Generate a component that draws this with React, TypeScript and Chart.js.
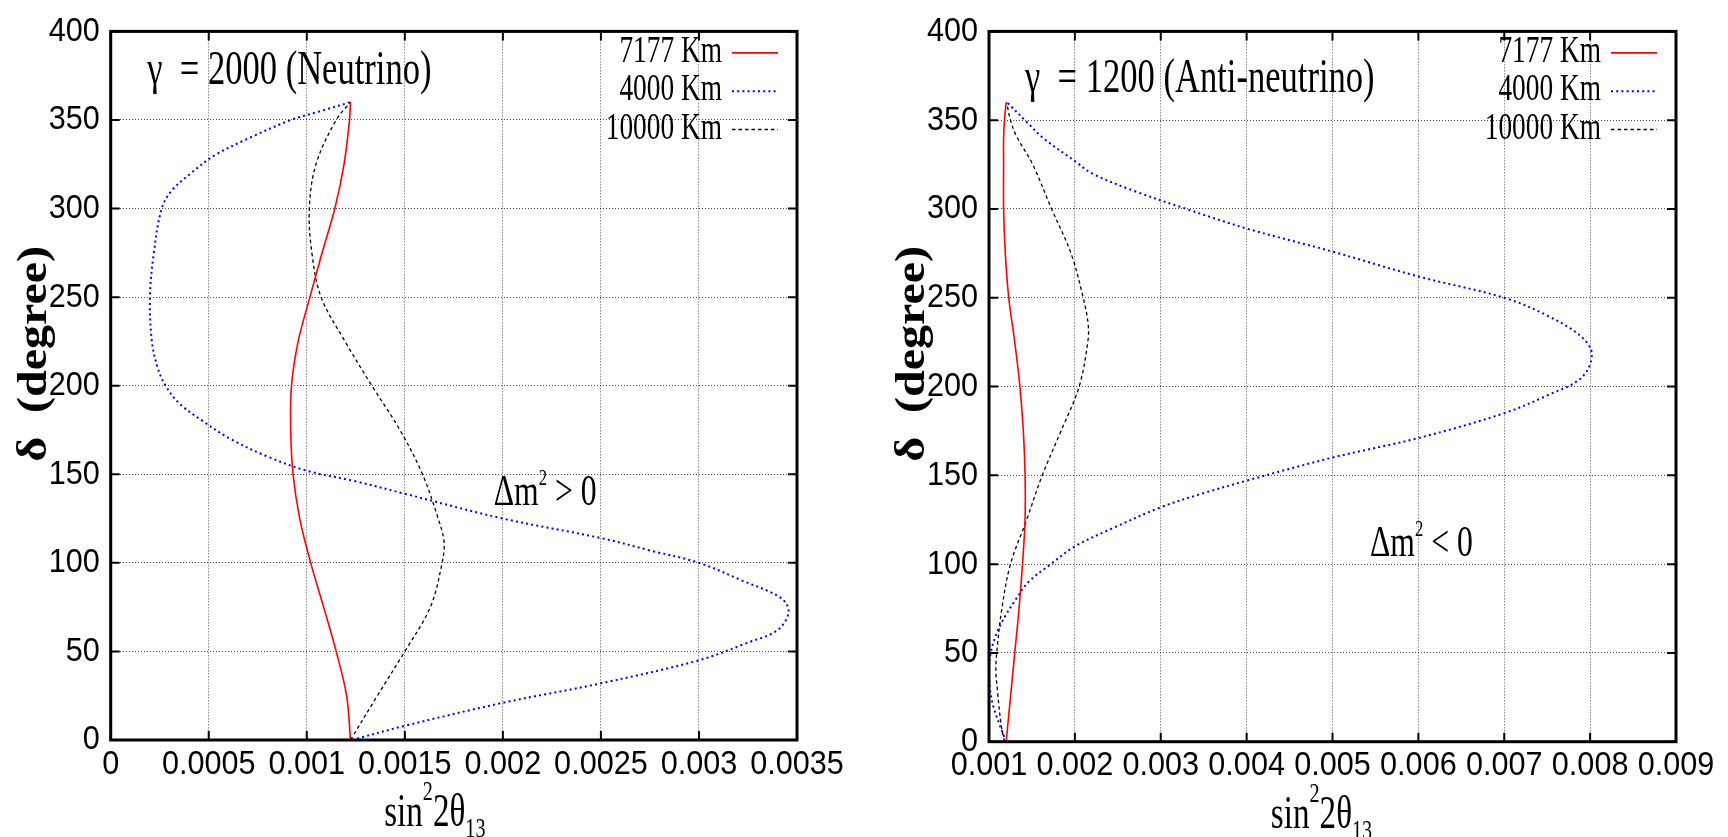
import { useEffect, useRef } from "react";
import { Chart, registerables } from "chart.js";

Chart.register(...registerables);

// ---------------- data ----------------
const legendLabels = ["7177 Km", "4000 Km", "10000 Km"];
const yTickLabels = ["0", "50", "100", "150", "200", "250", "300", "350", "400"];

// Neutrino panel (gamma = 2000, dm2 > 0)
const nuXTickLabels = ["0", "0.0005", "0.001", "0.0015", "0.002", "0.0025", "0.003", "0.0035"];
const nuRedDelta = [0, 25, 50, 75, 100, 125, 150, 175, 200, 225, 250, 275, 300, 325, 350, 360];
const nuRedS2 = [0.001223, 0.001203, 0.00115, 0.001086, 0.00102, 0.000964, 0.00093, 0.000918, 0.000922, 0.000956, 0.001016, 0.001078, 0.001143, 0.00119, 0.001218, 0.001223];
const nuBlueDelta = [0, 8, 21, 32, 45, 55, 62, 72, 80, 90, 100, 107, 114, 125, 139, 146, 152, 160, 170, 180, 190, 200, 210, 225, 250, 275, 300, 310, 320, 330, 340, 350, 355, 360];
const nuBlueS2 = [0.00123, 0.0015, 0.002, 0.0025, 0.003, 0.00325, 0.0034, 0.003457, 0.00342, 0.00322, 0.003, 0.00275, 0.0025, 0.002, 0.0015, 0.00125, 0.001, 0.0008, 0.00061, 0.00047, 0.00035, 0.00028, 0.00024, 0.00021, 0.0002, 0.00022, 0.00026, 0.00031, 0.00041, 0.00053, 0.00071, 0.00092, 0.00107, 0.00122];
const nuBlackDelta = [0, 25, 50, 75, 100, 112, 125, 150, 175, 200, 225, 250, 275, 300, 325, 350, 360];
const nuBlackS2 = [0.001223, 0.00136, 0.0015, 0.00163, 0.00169, 0.0017, 0.00167, 0.00159, 0.001475, 0.001332, 0.001195, 0.001073, 0.001026, 0.001013, 0.001047, 0.00115, 0.001223];

// Anti-neutrino panel (gamma = 1200, dm2 < 0)
const anuXTickLabels = ["0.001", "0.002", "0.003", "0.004", "0.005", "0.006", "0.007", "0.008", "0.009"];
const anuRedDelta = [0, 25, 50, 75, 100, 125, 150, 175, 200, 225, 250, 275, 300, 325, 340, 350, 360];
const anuRedS2 = [0.0012, 0.00125, 0.0013, 0.00135, 0.00139, 0.00142, 0.00142, 0.0014, 0.00136, 0.0013, 0.00123, 0.00119, 0.00117, 0.00117, 0.00117, 0.00118, 0.0012];
const anuBlueDelta = [0, 10, 20, 30, 40, 50, 60, 70, 80, 90, 100, 110, 120, 132, 140, 147, 160, 171, 185, 195, 205, 218, 228, 240, 250, 262, 276, 289, 300, 310, 320, 327, 340, 349, 360];
const anuBlueS2 = [0.0012, 0.00112, 0.00105, 0.00101, 0.001, 0.00102, 0.00108, 0.00118, 0.00131, 0.00146, 0.00172, 0.002, 0.00243, 0.003, 0.0035, 0.004, 0.005, 0.006, 0.007, 0.0075, 0.0079, 0.00802, 0.0079, 0.0075, 0.007, 0.006, 0.005, 0.004, 0.0033, 0.0027, 0.0022, 0.002, 0.00163, 0.00144, 0.00121];
const anuBlackDelta = [0, 10, 28, 40, 50, 75, 100, 125, 150, 175, 200, 225, 235, 250, 275, 300, 325, 341, 350, 360];
const anuBlackS2 = [0.00118, 0.00114, 0.0011, 0.00108, 0.00109, 0.00115, 0.00125, 0.001439, 0.00162, 0.001839, 0.00205, 0.00215, 0.002155, 0.002097, 0.001955, 0.001729, 0.00151, 0.00132, 0.00125, 0.001206];

const nuTitle = "\u03b3  = 2000 (Neutrino)";
const anuTitle = "\u03b3  = 1200 (Anti-neutrino)";
const nuHierarchy = " > 0";
const anuHierarchy = " < 0";

// ---------------- styling ----------------
const SERIF = "'Liberation Serif', 'DejaVu Serif', serif";
const TICK_FAMILY = "'Liberation Sans', Arial, sans-serif";
const HS = 0.72; // horizontal squeeze of the reference lettering (serif)
const TICK_SQUEEZE = 0.9; // horizontal squeeze of tick lettering

type Part = { t: string; size: number; dy?: number; bold?: boolean };

function partsWidth(ctx: CanvasRenderingContext2D, parts: Part[], sx: number) {
  let w = 0;
  for (const p of parts) {
    ctx.font = `${p.bold ? "bold " : ""}${p.size}px ${SERIF}`;
    w += ctx.measureText(p.t).width * sx;
  }
  return w;
}

function drawRich(ctx: CanvasRenderingContext2D, x: number, y: number, parts: Part[], align: "left" | "center" | "right", sx = HS) {
  const w = partsWidth(ctx, parts, sx);
  let cx = align === "center" ? x - w / 2 : align === "right" ? x - w : x;
  ctx.textAlign = "left";
  ctx.textBaseline = "alphabetic";
  for (const p of parts) {
    ctx.font = `${p.bold ? "bold " : ""}${p.size}px ${SERIF}`;
    const pw = ctx.measureText(p.t).width * sx;
    ctx.save();
    ctx.translate(cx, y + (p.dy || 0));
    ctx.scale(sx, 1);
    ctx.fillText(p.t, 0, 0);
    ctx.restore();
    cx += pw;
  }
}

type PanelCfg = {
  left: number;
  xMin: number;
  xMax: number;
  xStep: number;
  xLabels: string[];
  series: { delta: number[]; s2: number[] }[];
  title: string;
  hierarchy: string;
  yAxisWidth: number;
  xAxisHeight: number;
  padTop: number;
  padRight: number;
  titlePos: [number, number];
  hierPos: [number, number];
  xTitleDx: number;
};

const styles = [
  { color: "#ff0000", width: 1.6, dash: [] as number[] },
  { color: "#0000ff", width: 2, dash: [2, 3.2] },
  { color: "#000000", width: 1.3, dash: [3.5, 3] },
];

function zip(d: number[], v: number[]) {
  return d.map((dd, i) => ({ x: v[i], y: dd }));
}

function makeChart(canvas: HTMLCanvasElement, cfg: PanelCfg) {
  const tickFont = { family: TICK_FAMILY, size: 34 };

  const decor = {
    id: "decor",
    beforeDraw(chart: any) {
      // condensed tick lettering: use fillText's own maxWidth squeezing
      const ctx = chart.ctx as any;
      if (!ctx.__origFillText) ctx.__origFillText = ctx.fillText;
      const orig = ctx.__origFillText;
      ctx.fillText = function (text: string, x: number, y: number) {
        const w = this.measureText(text).width;
        orig.call(this, text, x, y, Math.max(1, w * TICK_SQUEEZE));
      };
    },
    afterDraw(chart: any) {
      const { ctx, chartArea: a, scales } = chart;
      if ((ctx as any).__origFillText) ctx.fillText = (ctx as any).__origFillText;
      const xs = scales.x;
      const ys = scales.y;
      ctx.save();
      ctx.fillStyle = "#000";
      ctx.strokeStyle = "#000";
      // inner ticks
      ctx.lineWidth = 2;
      ctx.setLineDash([]);
      ctx.beginPath();
      for (const t of xs.ticks) {
        const px = xs.getPixelForValue(t.value);
        ctx.moveTo(px, a.bottom);
        ctx.lineTo(px, a.bottom - 9);
        ctx.moveTo(px, a.top);
        ctx.lineTo(px, a.top + 9);
      }
      for (const t of ys.ticks) {
        const py = ys.getPixelForValue(t.value);
        ctx.moveTo(a.left, py);
        ctx.lineTo(a.left + 9, py);
        ctx.moveTo(a.right, py);
        ctx.lineTo(a.right - 9, py);
      }
      ctx.stroke();
      // frame
      ctx.lineWidth = 3;
      ctx.strokeRect(a.left, a.top, a.right - a.left, a.bottom - a.top);

      // legend (from datasets)
      chart.data.datasets.forEach((ds: any, i: number) => {
        const rowY = a.top + 21.5 + i * 38.3;
        ctx.fillStyle = "#000";
        drawRich(ctx, a.right - 75, rowY + 9, [{ t: ds.label, size: 38 }], "right");
        ctx.save();
        ctx.strokeStyle = ds.borderColor;
        ctx.lineWidth = ds.borderWidth;
        ctx.setLineDash(ds.borderDash || []);
        ctx.beginPath();
        ctx.moveTo(a.right - 65, rowY);
        ctx.lineTo(a.right - 19, rowY);
        ctx.stroke();
        ctx.restore();
      });

      // panel title
      ctx.fillStyle = "#000";
      drawRich(ctx, a.left + cfg.titlePos[0], a.top + cfg.titlePos[1], [{ t: cfg.title, size: 48 }], "left");
      // mass hierarchy label
      drawRich(
        ctx,
        a.left + cfg.hierPos[0],
        a.top + cfg.hierPos[1],
        [
          { t: "\u0394m", size: 44 },
          { t: "2", size: 23, dy: -20 },
          { t: cfg.hierarchy, size: 44 },
        ],
        "left"
      );
      // x axis title
      drawRich(
        ctx,
        (a.left + a.right) / 2 + cfg.xTitleDx,
        a.bottom + 86,
        [
          { t: "sin", size: 46 },
          { t: "2", size: 28, dy: -26 },
          { t: "2\u03b8", size: 46 },
          { t: "13", size: 28, dy: 11 },
        ],
        "center"
      );
      // y axis title (rotated)
      ctx.save();
      ctx.translate(a.left - 65, a.top + 322.5);
      ctx.rotate(-Math.PI / 2);
      ctx.scale(1, 0.9);
      ctx.font = `bold 48px ${SERIF}`;
      ctx.textAlign = "center";
      ctx.textBaseline = "alphabetic";
      ctx.fillText("\u03b4  (degree)", 0, 0);
      ctx.restore();

      ctx.restore();
    },
  };

  const labelFor = (labels: string[]) => (v: number) => {
    const hit = labels.find((l) => Math.abs(parseFloat(l) - v) < 1e-9);
    return hit ?? "";
  };

  return new Chart(canvas, {
    type: "scatter",
    data: {
      datasets: cfg.series.map((s, i) => ({
        label: legendLabels[i],
        data: zip(s.delta, s.s2),
        showLine: true,
        borderColor: styles[i].color,
        backgroundColor: styles[i].color,
        borderWidth: styles[i].width,
        borderDash: styles[i].dash,
        pointRadius: 0,
        pointHoverRadius: 0,
        tension: 0.35,
        fill: false,
      })),
    },
    options: {
      responsive: false,
      animation: false,
      events: [],
      layout: { padding: { top: cfg.padTop, right: cfg.padRight, left: 0, bottom: 0 } },
      plugins: { legend: { display: false }, tooltip: { enabled: false }, title: { display: false } },
      scales: {
        x: {
          type: "linear",
          min: cfg.xMin,
          max: cfg.xMax,
          ticks: {
            stepSize: cfg.xStep,
            autoSkip: false,
            maxRotation: 0,
            padding: 4,
            color: "#000",
            font: tickFont,
            callback: labelFor(cfg.xLabels) as any,
          },
          grid: { color: "rgba(0,0,0,0.7)", lineWidth: 1, drawTicks: false },
          border: { display: false, dash: [1, 2] },
          afterFit: (s: any) => {
            s.height = cfg.xAxisHeight;
          },
        },
        y: {
          type: "linear",
          min: 0,
          max: 400,
          ticks: {
            stepSize: 50,
            autoSkip: false,
            padding: 11,
            color: "#000",
            font: tickFont,
            callback: labelFor(yTickLabels) as any,
          },
          grid: { color: "rgba(0,0,0,0.7)", lineWidth: 1, drawTicks: false },
          border: { display: false, dash: [1, 2] },
          afterFit: (s: any) => {
            s.width = cfg.yAxisWidth;
          },
        },
      },
    } as any,
    plugins: [decor],
  });
}

const panels: PanelCfg[] = [
  {
    left: 0,
    xMin: 0,
    xMax: 0.0035,
    xStep: 0.0005,
    xLabels: nuXTickLabels,
    series: [
      { delta: nuRedDelta, s2: nuRedS2 },
      { delta: nuBlueDelta, s2: nuBlueS2 },
      { delta: nuBlackDelta, s2: nuBlackS2 },
    ],
    title: nuTitle,
    hierarchy: nuHierarchy,
    yAxisWidth: 110.7,
    xAxisHeight: 97,
    padTop: 29.5,
    padRight: 67,
    titlePos: [36.5, 52.5],
    hierPos: [383, 473.5],
    xTitleDx: -19,
  },
  {
    left: 864,
    xMin: 0.001,
    xMax: 0.009,
    xStep: 0.001,
    xLabels: anuXTickLabels,
    series: [
      { delta: anuRedDelta, s2: anuRedS2 },
      { delta: anuBlueDelta, s2: anuBlueS2 },
      { delta: anuBlackDelta, s2: anuBlackS2 },
    ],
    title: anuTitle,
    hierarchy: anuHierarchy,
    yAxisWidth: 125,
    xAxisHeight: 95.3,
    padTop: 30.7,
    padRight: 52,
    titlePos: [36, 60.5],
    hierPos: [381, 525],
    xTitleDx: -11,
  },
];

function Panel({ cfg }: { cfg: PanelCfg }) {
  const ref = useRef<HTMLCanvasElement | null>(null);
  useEffect(() => {
    if (!ref.current) return;
    const chart = makeChart(ref.current, cfg);
    return () => chart.destroy();
  }, [cfg]);
  return (
    <canvas
      ref={ref}
      width={864}
      height={837}
      style={{ position: "absolute", left: cfg.left, top: 0, width: 864, height: 837, display: "block" }}
    />
  );
}

export default function App() {
  return (
    <div style={{ position: "absolute", left: 0, top: 0, width: 1728, height: 837, background: "#fff", overflow: "hidden" }}>
      {panels.map((p, i) => (
        <Panel key={i} cfg={p} />
      ))}
    </div>
  );
}
